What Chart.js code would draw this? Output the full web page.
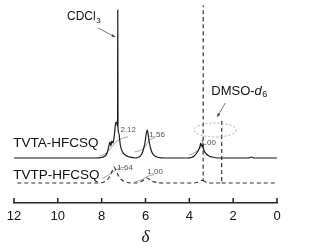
<!DOCTYPE html>
<html>
<head>
<meta charset="utf-8">
<script src="https://cdn.jsdelivr.net/npm/chart.js@4.4.0/dist/chart.umd.min.js"></script>
<style>
  html, body { margin: 0; padding: 0; background: #fff; }
  #wrap { width: 310px; height: 249px; }
</style>
</head>
<body>
<div id="wrap"><canvas id="nmr" width="310" height="249"></canvas></div>
<script>
// chemical shift (ppm) / intensity
const shiftA = [12, 8.3, 8.0, 7.85, 7.75, 7.68, 7.63, 7.58, 7.54, 7.48, 7.42, 7.37, 7.33, 7.29, 7.275, 7.265, 7.255, 7.22, 7.15, 7.05, 6.9, 6.7, 6.45, 6.3, 6.2, 6.1, 6.02, 5.96, 5.92, 5.88, 5.83, 5.76, 5.68, 5.55, 5.4, 5.1, 4.1, 3.9, 3.78, 3.68, 3.58, 3.52, 3.48, 3.45, 3.42, 3.38, 3.32, 3.22, 3.1, 2.95, 2.7, 1.3, 1.15, 1.05, 0];
const intensityA = [45, 45, 45.5, 47, 50, 56, 61, 57, 62, 60, 68, 79, 81, 78, 77, 193, 76, 70, 58, 51, 47.5, 45.8, 45, 46, 48, 53, 61, 70, 73, 69, 61, 54, 49.5, 46.8, 45.5, 45, 45, 45.5, 47, 49.5, 53, 56, 60, 57, 59, 56, 52, 49, 47, 46, 45, 45, 46, 45, 45];

const shiftB = [11.85, 8.2, 7.9, 7.75, 7.62, 7.52, 7.45, 7.4, 7.3, 7.2, 7.05, 6.9, 6.6, 6.3, 6.15, 6.02, 5.93, 5.85, 5.72, 5.5, 5.2, 3.8, 3.6, 3.45, 3.37, 3.365, 3.36, 3.3, 3.22, 3.1, 2.6, 2.525, 2.52, 2.515, 2.45, 0];
const intensityB = [20, 20, 21, 23, 27, 32, 36, 35, 30, 26, 22.5, 21, 20, 20.5, 22, 24, 25, 24, 22, 20.5, 20, 20, 21, 22.5, 23, 198, 23, 21.5, 20.5, 20, 20, 20.5, 83, 20.5, 20, 20];

// integral traces
const intShiftA1 = [8.1, 7.9, 7.7, 7.5, 7.35, 7.15, 6.95, 6.8];
const intValA1 = [47, 48.5, 52, 57, 61, 64, 65.5, 66];
const intShiftA2 = [6.5, 6.2, 6.0, 5.85, 5.7, 5.55];
const intValA2 = [51, 53, 57, 62, 64.5, 65.5];
const intShiftA3 = [4.0, 3.75, 3.55, 3.4, 3.25];
const intValA3 = [48, 50.5, 54, 57.5, 59];
const intShiftB1 = [7.95, 7.75, 7.55, 7.35, 7.15, 7.0];
const intValB1 = [25, 27, 30, 33, 35, 35.5];
const intShiftB2 = [6.5, 6.2, 6.0, 5.8, 5.6];
const intValB2 = [21, 23, 25.5, 27.5, 28.5];

const xTicks = [12, 10, 8, 6, 4, 2, 0];

const pts = (xs, ys) => xs.map((x, i) => ({ x: x, y: ys[i] }));

const sans = "'Liberation Sans', Arial, sans-serif";

let integral = (xs, ys) => ({
    data: pts(xs, ys),
    borderColor: '#8a8a8a',
    borderWidth: 0.8,
    pointRadius: 0,
    tension: 0.4
});

// text, arrows, ellipse and inward ticks
const extras = {
    id: 'extras',
    afterDraw(chart) {
        const ctx = chart.ctx;
        const sx = chart.scales.x, sy = chart.scales.y;
        const px = d => sx.getPixelForValue(d);
        const py = v => sy.getPixelForValue(v);
        ctx.save();

        // ticks pointing up from the axis
        ctx.strokeStyle = '#222';
        ctx.lineWidth = 1.5;
        xTicks.forEach(t => {
            const x = px(t);
            ctx.beginPath();
            ctx.moveTo(x, chart.chartArea.bottom);
            ctx.lineTo(x, chart.chartArea.bottom - 5);
            ctx.stroke();
        });

        // sample names
        ctx.fillStyle = '#111';
        ctx.textBaseline = 'middle';
        ctx.textAlign = 'left';
        ctx.font = '13.5px ' + sans;
        ctx.fillText('TVTA-HFCSQ', px(12.03), py(60));
        ctx.fillText('TVTP-HFCSQ', px(12.03), py(28));

        // CDCl3
        ctx.font = '12px ' + sans;
        let x0 = px(9.58), y0 = py(186);
        ctx.fillText('CDCl', x0, y0);
        let w = ctx.measureText('CDCl').width;
        ctx.font = '8px ' + sans;
        ctx.fillText('3', x0 + w + 0.5, y0 + 4);

        // DMSO-d6
        ctx.font = '13px ' + sans;
        x0 = px(3.0); y0 = py(112);
        ctx.fillText('DMSO-', x0, y0);
        w = ctx.measureText('DMSO-').width;
        ctx.font = 'italic 13px ' + sans;
        ctx.fillText('d', x0 + w, y0);
        w += ctx.measureText('d').width;
        ctx.font = '9px ' + sans;
        ctx.fillText('6', x0 + w + 0.5, y0 + 4);

        // integration values
        ctx.fillStyle = '#555';
        ctx.textAlign = 'center';
        ctx.font = '8px ' + sans;
        ctx.fillText('2.12', px(6.79), py(73));
        ctx.fillText('1.56', px(5.47), py(68));
        ctx.fillText('1.00', px(3.14), py(60));
        ctx.fillText('1.64', px(6.93), py(35));
        ctx.fillText('1.00', px(5.56), py(31));

        // arrows
        let arrow = (d1, v1, d2, v2) => {
            const x1 = px(d1), y1 = py(v1), x2 = px(d2), y2 = py(v2);
            const a = Math.atan2(y2 - y1, x2 - x1);
            ctx.strokeStyle = '#444';
            ctx.fillStyle = '#444';
            ctx.lineWidth = 0.7;
            ctx.beginPath();
            ctx.moveTo(x1, y1);
            ctx.lineTo(x2, y2);
            ctx.stroke();
            ctx.beginPath();
            ctx.moveTo(x2, y2);
            ctx.lineTo(x2 - 4 * Math.cos(a - 0.4), y2 - 4 * Math.sin(a - 0.4));
            ctx.lineTo(x2 - 4 * Math.cos(a + 0.4), y2 - 4 * Math.sin(a + 0.4));
            ctx.closePath();
            ctx.fill();
        };
        arrow(8.16, 175, 7.38, 166);
        arrow(2.36, 100, 2.73, 86);

        // dotted ellipse round the DMSO peak
        ctx.strokeStyle = '#999';
        ctx.lineWidth = 0.8;
        ctx.setLineDash([2, 2]);
        ctx.beginPath();
        ctx.ellipse(px(2.82), py(73), 21, 7, 0, 0, Math.PI * 2);
        ctx.stroke();

        ctx.restore();
    }
};

let nmrChart = new Chart(document.getElementById('nmr'), {
    type: 'line',
    data: {
        datasets: [
            {
                label: 'TVTA-HFCSQ',
                data: pts(shiftA, intensityA),
                borderColor: '#1a1a1a',
                borderWidth: 1.2,
                pointRadius: 0,
                cubicInterpolationMode: 'monotone'
            },
            {
                label: 'TVTP-HFCSQ',
                data: pts(shiftB, intensityB),
                borderColor: '#333',
                borderWidth: 1.2,
                borderDash: [4, 3],
                pointRadius: 0,
                cubicInterpolationMode: 'monotone',
                // hide the way back down a spike so the dashes stay clean
                segment: {
                    borderColor: c => (c.p0.parsed.y - c.p1.parsed.y > 40 ? 'rgba(0,0,0,0)' : undefined)
                }
            },
            integral(intShiftA1, intValA1),
            integral(intShiftA2, intValA2),
            integral(intShiftA3, intValA3),
            integral(intShiftB1, intValB1),
            integral(intShiftB2, intValB2)
        ]
    },
    options: {
        responsive: false,
        animation: false,
        layout: { padding: { left: 14, right: 33, top: 0, bottom: 0 } },
        plugins: {
            legend: { display: false },
            tooltip: { enabled: false }
        },
        scales: {
            x: {
                type: 'linear',
                reverse: true,
                min: 0,
                max: 12,
                afterBuildTicks: scale => {
                    scale.ticks = xTicks.map(v => ({ value: v }));
                },
                afterFit: scale => { scale.height = 46; },
                ticks: {
                    color: '#111',
                    padding: 6,
                    maxRotation: 0,
                    font: { family: sans, size: 13 }
                },
                grid: { display: true, drawOnChartArea: false, drawTicks: false },
                border: { display: true, color: '#222', width: 1.5 },
                title: {
                    display: true,
                    text: 'δ',
                    color: '#111',
                    padding: { top: 0, bottom: 1 },
                    font: { family: "'Liberation Serif', 'Times New Roman', serif", style: 'italic', size: 17 }
                }
            },
            y: {
                display: false,
                min: 0,
                max: 203
            }
        }
    },
    plugins: [extras]
});
</script>
</body>
</html>
